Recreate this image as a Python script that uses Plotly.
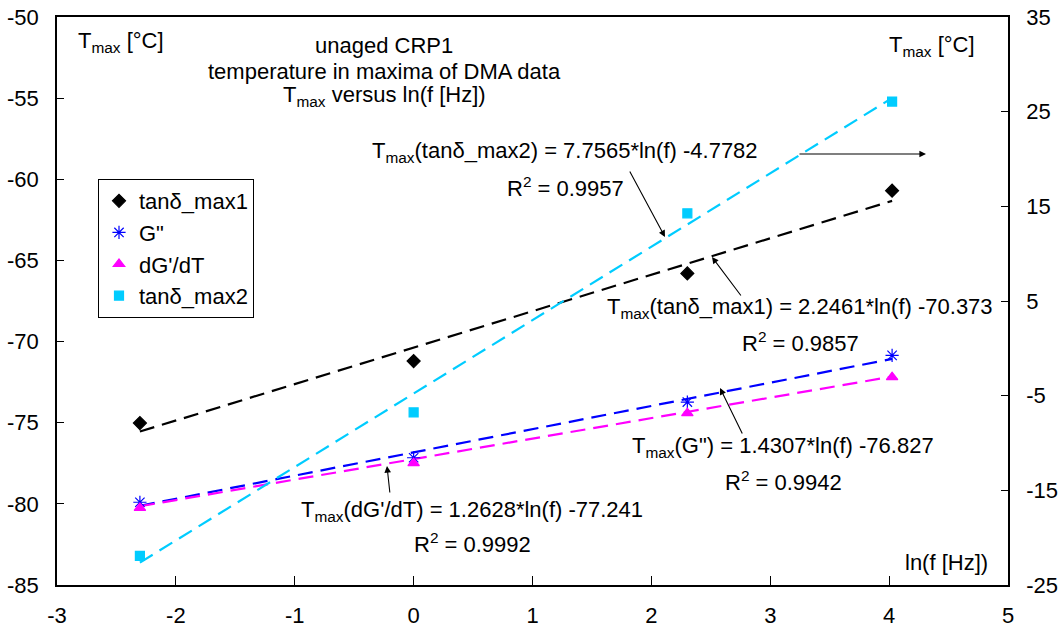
import plotly.graph_objects as go

# ---------------- data ----------------
ln_f = [-2.3026, 0.0, 2.3026, 4.025]

tan_max1 = [-75.02, -71.2, -65.8, -60.7]
g_loss = [-79.9, -77.16, -73.73, -70.85]
dgdt = [-80.25, -77.49, -74.41, -72.19]
tan_max2 = [-21.93, -6.77, 14.26, 26.07]   # right axis

series_names = ["tanδ_max1", 'G"', "dG'/dT", "tanδ_max2"]
fit_slope = [2.2461, 1.4307, 1.2628, 7.7565]
fit_intercept = [-70.373, -76.827, -77.241, -4.7782]
fit_r2 = [0.9857, 0.9942, 0.9992, 0.9957]

x_ticks = [-3, -2, -1, 0, 1, 2, 3, 4, 5]
y_left_ticks = [-85, -80, -75, -70, -65, -60, -55, -50]
y_right_ticks = [-25, -15, -5, 5, 15, 25, 35]

# ---------------- layout helpers ----------------
W, H = 1060, 630
L, R, T, B = 57, 52, 17, 45
PW, PH = W - L - R, H - T - B
FONT = "Arial, 'Liberation Sans', sans-serif"
FS = 22


def px(x):
    return (x - L) / PW


def py(y):
    return (H - B - y) / PH


colors = ["#000000", "#0000FF", "#FF00FF", "#00CCFF"]
symbols = ["diamond", "asterisk-open", "triangle-up", "square"]
sizes = [10, 11, 10, 9]
values = [tan_max1, g_loss, dgdt, tan_max2]
axes = ["y", "y", "y", "y2"]

fig = go.Figure()

# trendlines (dashed) first
for i in range(4):
    xe = [ln_f[0], ln_f[-1]]
    ye = [fit_slope[i] * v + fit_intercept[i] for v in xe]
    fig.add_trace(go.Scatter(
        x=xe, y=ye, mode="lines", yaxis=axes[i], showlegend=False,
        line=dict(color=colors[i], width=2.2, dash="15px,8px"),
        hoverinfo="skip"))

# data markers
for i in range(4):
    fig.add_trace(go.Scatter(
        x=ln_f, y=values[i], mode="markers", name=series_names[i], yaxis=axes[i],
        marker=dict(symbol=symbols[i], size=sizes[i], color=colors[i],
                    line=dict(color=colors[i], width=1.2))))

ann = []


def text(x, y, s, anchor="center"):
    ann.append(dict(x=px(x), y=py(y), xref="paper", yref="paper", text=s,
                    showarrow=False, xanchor=anchor, yanchor="middle",
                    font=dict(family=FONT, size=FS, color="black")))


def arrow(hx, hy, tx, ty):
    ann.append(dict(x=px(hx), y=py(hy), xref="paper", yref="paper",
                    ax=tx - hx, ay=ty - hy, axref="pixel", ayref="pixel",
                    text="", showarrow=True, arrowhead=2, arrowsize=1.2,
                    arrowwidth=1.1, arrowcolor="black", standoff=0, startstandoff=0))


# axis titles
text(76, 42, "T<sub>max</sub> [°C]", "left")
text(977, 46, "T<sub>max</sub> [°C]", "right")
text(990, 562, "ln(f [Hz])", "right")

# chart title
text(384, 46, "unaged CRP1")
text(384, 71, "temperature in maxima of DMA data")
text(384, 96, "T<sub>max</sub> versus ln(f [Hz])")

# equations
eq_pos = [(800, 308, 342), (783, 447, 481), (472, 511, 543), (565, 152, 187)]
for i in range(4):
    cx, y1, y2 = eq_pos[i]
    text(cx, y1, "T<sub>max</sub>(%s) = %s*ln(f) %s" % (
        series_names[i], str(fit_slope[i]), str(fit_intercept[i])))
    text(cx, y2, "R<sup>2</sup> = %s" % fit_r2[i])

# arrows
arrow(665, 237, 629, 170)
arrow(926, 154, 798, 154)
arrow(712, 257, 742, 297)
arrow(720, 388, 743, 435)
arrow(387, 466, 390, 494)

axis_common = dict(showgrid=False, zeroline=False, showline=True, linecolor="black",
                   linewidth=1.5, tickcolor="black", automargin=False,
                   ticklabeloverflow="allow",
                   tickfont=dict(family=FONT, size=FS))

fig.update_layout(
    width=W, height=H,
    margin=dict(l=L, r=R, t=T, b=B, autoexpand=False),
    paper_bgcolor="white", plot_bgcolor="white",
    font=dict(family=FONT, size=FS, color="black"),
    showlegend=True,
    legend=dict(x=px(98), y=py(179), xanchor="left", yanchor="top",
                bgcolor="white", bordercolor="black", borderwidth=1,
                font=dict(family=FONT, size=FS), itemwidth=30,
                tracegroupgap=0),
    xaxis=dict(range=[-3, 5], tickvals=x_ticks, ticktext=[str(v) for v in x_ticks],
               mirror=True, ticks="inside", ticklen=9, ticklabelstandoff=10,
               **axis_common),
    yaxis=dict(range=[-85, -50], tickvals=y_left_ticks,
               ticktext=[str(v) for v in y_left_ticks],
               ticks="inside", ticklen=7, ticklabelstandoff=12, **axis_common),
    yaxis2=dict(range=[-25, 35], tickvals=y_right_ticks,
                ticktext=[str(v) for v in y_right_ticks],
                overlaying="y", side="right",
                ticks="inside", ticklen=7, ticklabelstandoff=12, **axis_common),
    annotations=ann,
)

fig.write_html(
    "out.html",
    config={"displayModeBar": False},
    post_script="document.body.style.margin='0';document.body.style.overflow='hidden';",
)
